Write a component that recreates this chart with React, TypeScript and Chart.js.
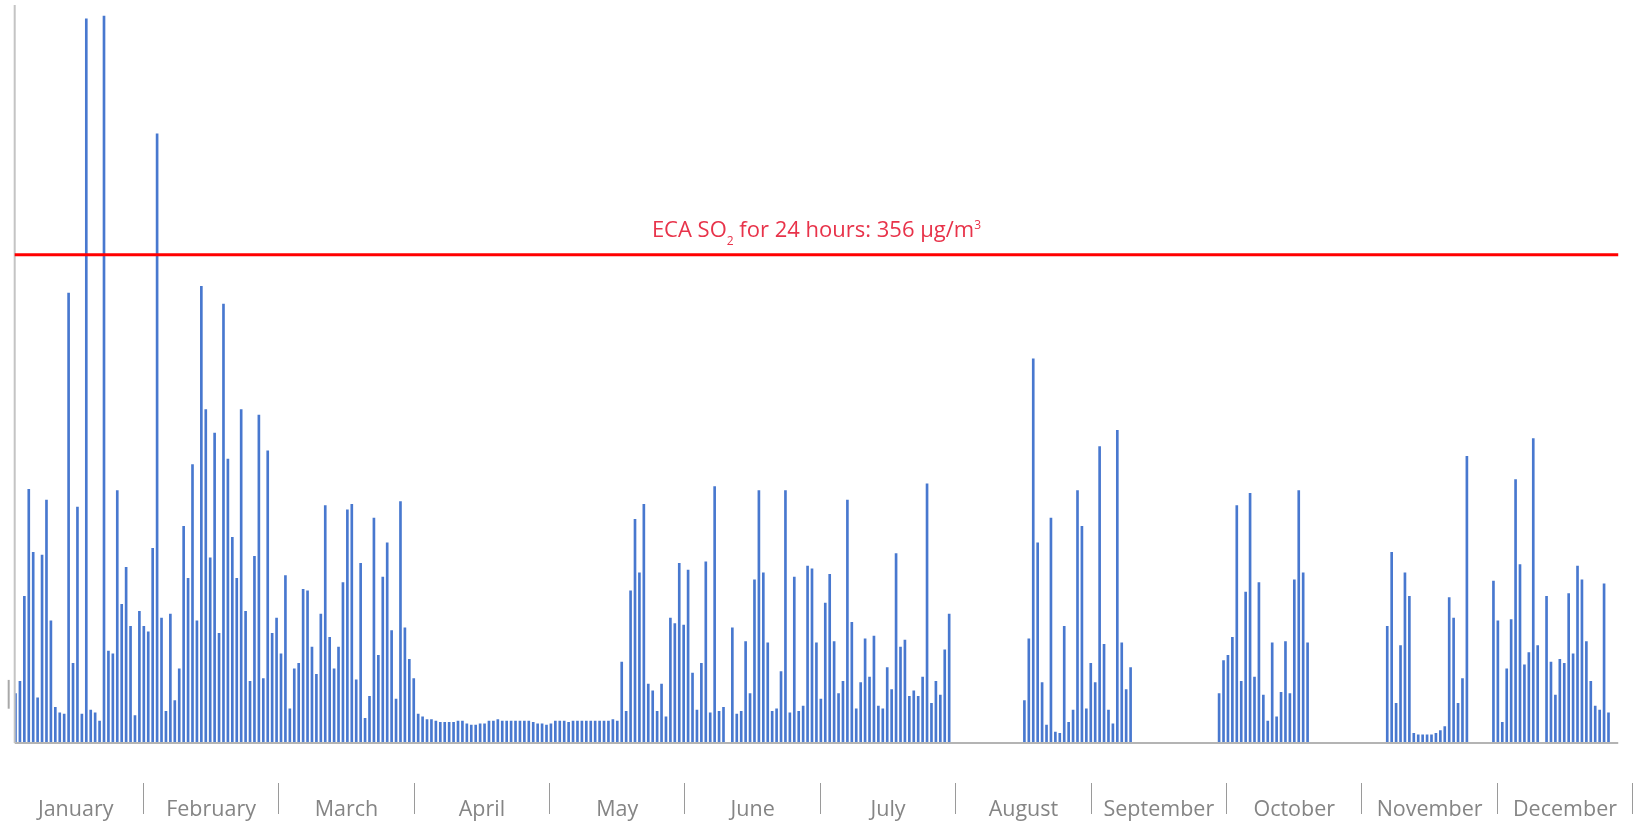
import React, { useEffect, useRef } from 'react';
import { Chart, registerables } from 'chart.js';

Chart.register(...registerables);

// Month labels of the lower axis
const MONTH_LABELS = [
  'January', 'February', 'March', 'April', 'May', 'June',
  'July', 'August', 'September', 'October', 'November', 'December',
];

// Daily SO2 concentrations (µg/m³), grouped in chunks of the year; null = no measurement
const janValues = [36, 45, 107, 185, 139, 33, 137, 177, 89, 26, 22, 21, 328, 58, 172, 21, 528, 24, 22, 16, 530, 67, 65, 184, 101, 128, 85, 20, 96, 85, 81];
const febValues = [142, 444, 91, 23, 94, 31, 54, 158, 120, 203, 89, 333, 243, 135, 226, 80, 320, 207, 150, 120, 243, 96, 45, 136, 239, 47, 213, 80];
const marValues = [91, 65, 122, 25, 54, 58, 112, 111, 70, 50, 94, 173, 77, 54, 70, 117, 170, 174, 46, 131, 18, 34, 164, 64, 121, 146, 82, 32, 176, 84, 61];
const aprValues = [47, 21, 19, 17, 17, 16, 15, 15, 15, 15, 16, 16, 14, 13, 13, 14, 14, 16, 16, 17, 16, 16, 16, 16, 16, 16, 16, 15, 14, 14];
const mayValues = [13, 14, 16, 16, 16, 15, 16, 16, 16, 16, 16, 16, 16, 16, 16, 17, 16, 59, 23, 111, 163, 124, 174, 43, 38, 23, 43, 19, 91, 87, 131];
const junValues = [86, 126, 51, 24, 58, 132, 22, 187, 23, 26, null, 84, 21, 23, 74, 36, 119, 184, 124, 73, 23, 25, 52, 184, 22, 121, 23, 27, 129, 127];
const julValues = [73, 32, 102, 123, 74, 36, 45, 177, 88, 25, 44, 76, 48, 78, 27, 25, 55, 39, 138, 70, 75, 34, 38, 34, 48, 189, 29, 45, 35, 68, 94];
const augValues = [null, null, null, null, null, null, null, null, null, null, null, null, null, null, null, null, 31, 76, 280, 146, 44, 13, 164, 8, 7, 85, 15, 24, 184, 158, 25];
const sepValues = [58, 44, 216, 72, 24, 14, 228, 73, 39, 55, null, null, null, null, null, null, null, null, null, null, null, null, null, null, null, null, null, null, null, 36];
const octValues = [60, 64, 77, 173, 45, 110, 182, 48, 117, 35, 16, 73, 19, 37, 74, 36, 119, 184, 124, 73, null, null, null, null, null, null, null, null, null, null, null];
const novValues = [null, null, null, null, null, null, 85, 139, 29, 71, 124, 107, 7, 6, 6, 6, 6, 7, 9, 12, 106, 91, 29, 47, 209, null, null, null, null, null];
const decValues = [118, 89, 15, 54, 90, 192, 130, 57, 66, 222, 71, null, 107, 59, 35, 61, 58, 109, 65, 129, 119, 74, 45, 27, 24, 116, 22];

const DAILY_VALUES: (number | null)[] = [
  ...janValues, ...febValues, ...marValues, ...aprValues, ...mayValues, ...junValues,
  ...julValues, ...augValues, ...sepValues, ...octValues, ...novValues, ...decValues,
];

// Limit line
const LIMIT_VALUE = 356;
const LIMIT_TEXT_A = 'ECA SO';
const LIMIT_TEXT_SUB = '2';
const LIMIT_TEXT_B = ' for 24 hours: 356 µg/m';
const LIMIT_TEXT_SUP = '3';

// Axis ranges (in day index units / value units)
const Y_MAX = 538;
const DAY_MIN = -1.695;
const DAY_MAX = 365.47;
const PLOT_START = -0.18;
const PLOT_END = 362.2;
const STRAY_MARK_DAY = -1.54;
const STRAY_MARK_LOW = 25;
const STRAY_MARK_HIGH = 46;

const FONT_FAMILY = "'Open Sans', 'DejaVu Sans', sans-serif";

const limitLabelPlugin = {
  id: 'limitLabel',
  afterDatasetsDraw(chart: any) {
    const { ctx } = chart;
    const xs = chart.scales.x;
    const ys = chart.scales.y;
    const cx = (xs.getPixelForValue(PLOT_START) + xs.getPixelForValue(PLOT_END)) / 2;
    const baseY = ys.getPixelForValue(LIMIT_VALUE) - 18;
    const main = `22px ${FONT_FAMILY}`;
    const small = `12px ${FONT_FAMILY}`;
    const parts = [
      { t: LIMIT_TEXT_A, f: main, dy: 0, w: 0 },
      { t: LIMIT_TEXT_SUB, f: small, dy: 8, w: 0 },
      { t: LIMIT_TEXT_B, f: main, dy: 0, w: 0 },
      { t: LIMIT_TEXT_SUP, f: small, dy: -8, w: 0 },
    ];
    ctx.save();
    ctx.textBaseline = 'alphabetic';
    ctx.textAlign = 'left';
    let total = 0;
    for (const p of parts) {
      ctx.font = p.f;
      p.w = ctx.measureText(p.t).width;
      total += p.w;
    }
    let x = cx - total / 2;
    ctx.fillStyle = '#e8334a';
    for (const p of parts) {
      ctx.font = p.f;
      ctx.fillText(p.t, x, baseY + p.dy);
      x += p.w;
    }
    ctx.restore();
  },
};

export default function App() {
  const canvasRef = useRef<HTMLCanvasElement>(null);

  useEffect(() => {
    document.body.style.margin = '0';
    const canvas = canvasRef.current;
    if (!canvas) return;

    const barData = DAILY_VALUES
      .map((v, i) => (v === null ? null : { x: i, y: v }))
      .filter((p) => p !== null);

    const chart = new Chart(canvas, {
      type: 'bar',
      data: {
        datasets: [
          {
            type: 'line',
            label: 'limit',
            data: [{ x: PLOT_START, y: LIMIT_VALUE }, { x: PLOT_END, y: LIMIT_VALUE }],
            borderColor: '#ff0000',
            borderWidth: 3,
            pointRadius: 0,
            fill: false,
            clip: false,
            xAxisID: 'x',
            yAxisID: 'y',
          } as any,
          {
            type: 'line',
            label: 'value axis',
            data: [{ x: PLOT_START, y: 0 }, { x: PLOT_START, y: Y_MAX }],
            borderColor: '#c4c4c4',
            borderWidth: 2,
            pointRadius: 0,
            fill: false,
            clip: false,
            xAxisID: 'x',
            yAxisID: 'y',
          } as any,
          {
            type: 'line',
            label: 'baseline',
            data: [{ x: PLOT_START, y: 0 }, { x: PLOT_END, y: 0 }],
            borderColor: '#b4b4b4',
            borderWidth: 2,
            pointRadius: 0,
            fill: false,
            clip: false,
            xAxisID: 'x',
            yAxisID: 'y',
          } as any,
          {
            type: 'line',
            label: 'mark',
            data: [{ x: STRAY_MARK_DAY, y: STRAY_MARK_LOW }, { x: STRAY_MARK_DAY, y: STRAY_MARK_HIGH }],
            borderColor: '#a8a8a8',
            borderWidth: 2,
            pointRadius: 0,
            fill: false,
            clip: false,
            xAxisID: 'x',
            yAxisID: 'y',
          } as any,
          {
            type: 'bar',
            label: 'SO2',
            data: barData as any,
            backgroundColor: '#4878cf',
            borderWidth: 0,
            barThickness: 2,
            xAxisID: 'x',
            yAxisID: 'y',
          } as any,
        ],
      },
      options: {
        responsive: false,
        animation: false,
        devicePixelRatio: 1,
        layout: { padding: { left: 8, right: 8.3, top: 5, bottom: 0 } },
        plugins: {
          legend: { display: false },
          tooltip: { enabled: false },
        },
        scales: {
          x: {
            type: 'linear',
            position: 'bottom',
            min: DAY_MIN,
            max: DAY_MAX,
            offset: false,
            weight: 0,
            ticks: { display: false },
            grid: { display: false },
            border: { display: false },
            afterFit: (s: any) => { s.height = 40; },
          } as any,
          month: {
            type: 'category',
            position: 'bottom',
            labels: MONTH_LABELS,
            offset: true,
            weight: 1,
            grid: {
              offset: true,
              drawOnChartArea: false,
              drawTicks: true,
              tickLength: 31,
              lineWidth: 1,
              color: (c: any) => (c.index === 0 ? 'rgba(0,0,0,0)' : '#9a9a9a'),
            },
            border: { display: false },
            ticks: {
              padding: -17,
              color: '#858585',
              font: { family: FONT_FAMILY, size: 21.5 },
              maxRotation: 0,
              autoSkip: false,
            },
            afterFit: (s: any) => { s.height = 38; },
          } as any,
          y: {
            display: false,
            min: 0,
            max: Y_MAX,
          },
        },
      },
      plugins: [limitLabelPlugin],
    });

    return () => chart.destroy();
  }, []);

  return (
    <div style={{ width: 1641, height: 821 }}>
      <canvas ref={canvasRef} width={1641} height={821} style={{ display: 'block' }} />
    </div>
  );
}
